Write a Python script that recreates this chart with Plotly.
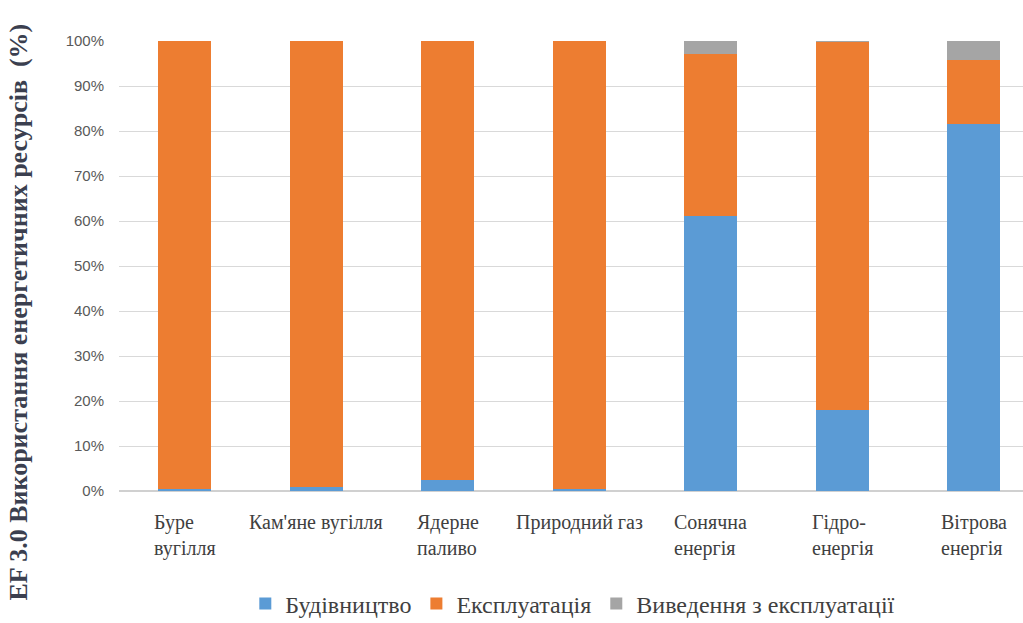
import plotly.graph_objects as go

# Energy sources and life-cycle phase shares (fraction of total use)
categories = ["Буре вугілля", "Кам'яне вугілля", "Ядерне паливо", "Природний газ",
              "Сонячна енергія", "Гідроенергія", "Вітрова енергія"]
tick_labels = ["Буре<br>вугілля", "Кам'яне вугілля", "Ядерне<br>паливо", "Природний газ",
               "Сонячна<br>енергія", "Гідро-<br>енергія", "Вітрова<br>енергія"]
construction = [0.005, 0.010, 0.025, 0.005, 0.611, 0.180, 0.816]
operation = [0.995, 0.990, 0.975, 0.995, 0.360, 0.818, 0.142]
decommissioning = [0.000, 0.000, 0.000, 0.000, 0.029, 0.002, 0.042]

series = [
    ("Будівництво", construction, "#5b9bd5"),
    ("Експлуатація", operation, "#ed7d31"),
    ("Виведення з експлуатації", decommissioning, "#a5a5a5"),
]

SERIF = "Liberation Serif, Times New Roman, serif"

fig = go.Figure()
for name, vals, color in series:
    fig.add_trace(go.Bar(
        x=categories, y=vals, name=name,
        marker=dict(color=color, line=dict(width=0)),
        width=0.4,
    ))

# Category labels: wrapped lines left-aligned inside a block centred under each bar
annotations = [
    dict(text=lab, x=cat, xref="x", y=-0.04, yref="paper",
         xanchor="center", yanchor="top", align="left", showarrow=False,
         font=dict(family=SERIF, size=20, color="#404040"))
    for cat, lab in zip(categories, tick_labels)
]
annotations.append(dict(
    text="<b>EF 3.0 Використання енергетичних ресурсів  (%)</b>",
    xref="paper", yref="paper", x=-0.111, y=0.398,
    xanchor="center", yanchor="middle", textangle=-90, showarrow=False,
    font=dict(family=SERIF, size=26, color="#3b3f4f"),
))

fig.update_layout(
    barmode="stack",
    width=1023, height=623,
    margin=dict(l=119, r=0, t=41, b=132, autoexpand=False),
    plot_bgcolor="white", paper_bgcolor="white",
    font=dict(family=SERIF, size=16, color="#404040"),
    showlegend=True,
    legend=dict(
        orientation="h", x=0.502, xanchor="center", y=-0.251, yanchor="middle",
        font=dict(family=SERIF, size=24, color="#404040"),
        traceorder="normal",
    ),
    xaxis=dict(
        range=[-0.5, 6.375],
        showgrid=False, showline=False, ticks="", showticklabels=False,
    ),
    yaxis=dict(
        range=[0, 1.0001], dtick=0.1, tickformat=".0%",
        showgrid=True, gridcolor="#d9d9d9", gridwidth=1,
        zeroline=True, zerolinecolor="#d0d0d0", zerolinewidth=1.5,
        tickfont=dict(family="Liberation Sans", size=15, color="#595959"),
        ticklabelstandoff=14,
    ),
    annotations=annotations,
)

fig.write_html("out.html")
